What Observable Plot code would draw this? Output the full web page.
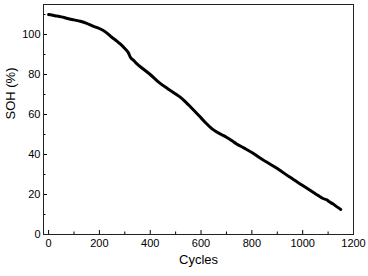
<!DOCTYPE html>
<html><head><meta charset="utf-8">
<script src="https://cdn.jsdelivr.net/npm/d3@7"></script>
<script src="https://cdn.jsdelivr.net/npm/@observablehq/plot@0.6"></script>
<style>body{margin:0;background:#fff;}</style>
</head><body><div id="chart"></div>
<script>
const cycles = [0, 25, 50, 75, 100, 125, 150, 175, 200, 225, 250, 270, 282, 300, 315, 322, 335, 348, 370, 400, 433, 470, 500, 518, 540, 560, 580, 600, 620, 640, 660, 680, 700, 720, 740, 770, 800, 825, 858, 900, 949, 1000, 1050, 1080, 1095, 1105, 1120, 1135, 1150];
const soh = [110, 109.4, 108.8, 108.0, 107.3, 106.6, 105.6, 104.2, 103.0, 101.2, 98.5, 96.6, 95.3, 93.0, 90.6, 88.6, 87.0, 85.3, 83.0, 80.0, 76.2, 72.8, 70.3, 68.7, 66.2, 63.6, 61.0, 58.3, 55.6, 53.2, 51.4, 50.0, 48.6, 47.0, 45.3, 43.2, 41.0, 38.9, 36.2, 33.0, 28.7, 24.5, 20.4, 18.0, 17.3, 16.4, 15.2, 13.8, 12.5];
const xMajor = [0, 200, 400, 600, 800, 1000, 1200];
const xMinor = [100, 300, 500, 700, 900, 1100];
const yMajor = [0, 20, 40, 60, 80, 100];
const yMinor = [10, 30, 50, 70, 90, 110];

const data = cycles.map((c, i) => ({cycle: c, soh: soh[i]}));
const W = 368, H = 276, mL = 43, mR = 15, mT = 4, mB = 42;
const pw = W - mL - mR, ph = H - mT - mB;

const chart = Plot.plot({
  width: W, height: H,
  marginLeft: mL, marginRight: mR, marginTop: mT, marginBottom: mB,
  style: {fontFamily: "Liberation Sans, Arial, sans-serif", fontSize: "11px", color: "#000", background: "#fff"},
  x: {domain: [-20, 1200]},
  y: {domain: [0, 115]},
  marks: [
    Plot.line(data, {x: "cycle", y: "soh", stroke: "#000", strokeWidth: 3, strokeLinejoin: "round", strokeLinecap: "round", curve: "monotone-x"}),
    Plot.tickY(yMajor, {y: d => d, stroke: "#000", insetRight: pw - 4}),
    Plot.tickY(yMinor, {y: d => d, stroke: "#000", insetRight: pw - 2.5}),
    Plot.tickX(xMajor, {x: d => d, stroke: "#000", insetTop: ph - 4}),
    Plot.tickX(xMinor, {x: d => d, stroke: "#000", insetTop: ph - 2.5}),
    Plot.axisX(xMajor, {tickSize: 0, tickPadding: 5, label: null, fontSize: 11, tickFormat: d => String(d)}),
    Plot.axisY(yMajor, {tickSize: 0, tickPadding: 3, label: null, fontSize: 11, tickFormat: d => String(d)}),
    Plot.frame({stroke: "#222", strokeWidth: 1}),
    Plot.text(["Cycles"], {text: d => d, frameAnchor: "bottom", dy: 29, fontSize: 13}),
    Plot.text(["SOH (%)"], {text: d => d, frameAnchor: "left", dx: -33, rotate: -90, fontSize: 13})
  ]
});
document.getElementById("chart").appendChild(chart);
</script>
</body></html>
